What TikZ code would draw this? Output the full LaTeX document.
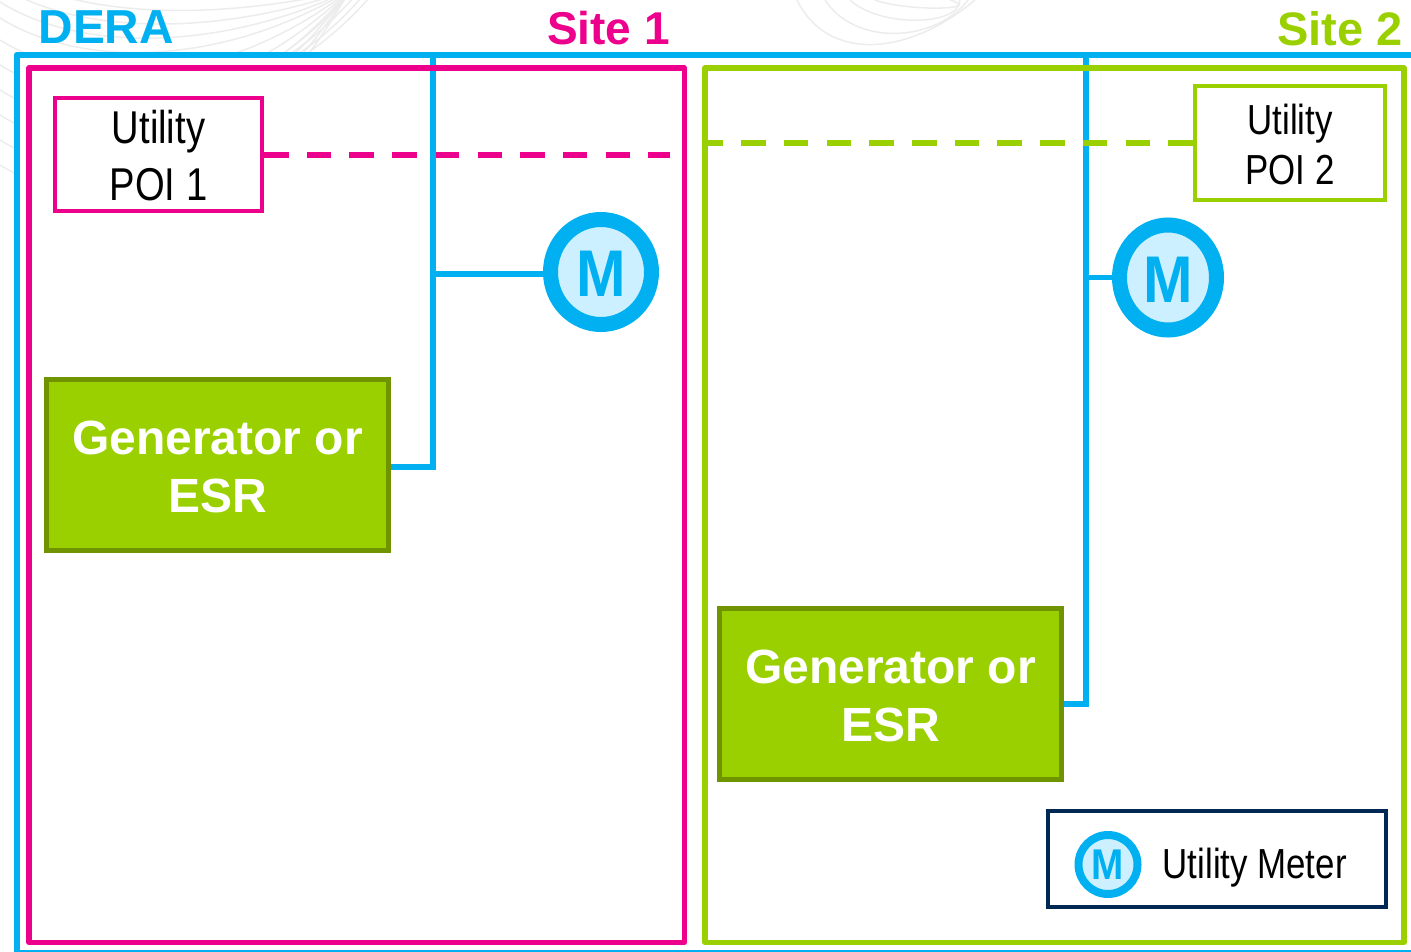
\documentclass[tikz,border=0pt]{standalone}
\usepackage{fontspec}
\setmainfont{Liberation Sans}
\newfontfamily\narrowfont[FakeStretch=0.83]{Liberation Sans}
\usepackage{xcolor}
\definecolor{dera}{RGB}{0,176,240}
\definecolor{meterfill}{RGB}{204,240,255}
\definecolor{siteone}{RGB}{236,0,140}
\definecolor{sitetwo}{RGB}{155,208,0}
\definecolor{genedge}{RGB}{111,148,0}
\definecolor{legendedge}{RGB}{0,40,85}
\definecolor{swirl}{RGB}{236,236,236}
\usetikzlibrary{positioning, calc, shapes.geometric}
\newcommand{\genlabel}{\rule{0pt}{37pt}Generator or\\ESR}
\newcommand{\meterM}{\scalebox{0.9}[1]{\bfseries M}}
\tikzstyle{Site} = [line width=5.3pt, line join=round]
\tikzstyle{Bus} = [draw=dera, line width=5.5pt]
\tikzstyle{Dash} = [line width=6pt, dash pattern=on 24.5pt off 18.2pt]
\tikzstyle{Poi} = [draw, fill=white, line width=4pt, inner sep=0pt, align=center]
\tikzstyle{Gen} = [draw=genedge, fill=sitetwo, line width=5pt, inner sep=0pt, align=center, text=white,
  minimum width=342pt, minimum height=171pt, font=\fontsize{48}{57.5}\selectfont\bfseries]
\tikzstyle{Meter} = [ellipse, draw=dera, fill=meterfill, line width=15pt, inner sep=0pt, text=dera,
  font=\fontsize{66}{66}\selectfont]
\tikzstyle{Title} = [inner sep=0pt, font=\fontsize{47}{47}\selectfont\bfseries]
\tikzstyle{Swirl} = [draw=swirl, line width=1.5pt]

\begin{document}
\begin{tikzpicture}[x=1pt, y=-1pt]
    \useasboundingbox (0,0) rectangle (1411,951);
    % faint curves behind the frame
    \foreach \a in {-30,-14,2,18,40,65,90,115,140,165}
        \draw[Swirl] (0,\a) .. controls (80,\a+50) and (220,\a+50) .. (350,-10);
    \foreach \a in {0,8,16,24}
        \draw[Swirl] (282+\a,54) .. controls (310+\a,35) and (330+\a,15) .. (345+\a,-2);
    \foreach \a/\b/\c in {797/44/975,825/33/968,850/20/960,875/8/950}
        \draw[Swirl] (\a,0) .. controls (\a+30,\b*1.4) and (\a+110,\b*1.3) .. (\c,0);

    % frame and titles
    \draw[dera, fill=white, line width=6pt, line join=round] (1420,54.5) -- (17,54.5) -- (17,953) -- (1420,953);
    \node[Title, text=dera, font=\fontsize{47.7}{47.7}\selectfont\bfseries, anchor=base west] (dera) at (38.5,43) {DERA};
    \node[Title, text=siteone, font=\fontsize{46}{46}\selectfont\bfseries, anchor=base west] (title1) at (547,44) {Site 1};
    \node[Title, text=sitetwo, anchor=base east] (title2) at (1403,45) {Site 2};

    \node[Gen] (gen1) at (217.5,465) {\genlabel};
    \node[Gen] (gen2) at (890.5,694) {\genlabel};
    \node[Meter, minimum width=101pt, minimum height=105pt] (m1) at (601,272) {\rule{0pt}{49pt}\meterM};
    \node[Meter, minimum width=97pt, minimum height=105pt] (m2) at (1168,277.5) {\rule{0pt}{49pt}\meterM};

    \node[Poi, draw=siteone, minimum width=207pt, minimum height=113pt, font=\fontsize{46}{57}\narrowfont] (poi1) at (158.5,154.5)
      {\rule{0pt}{36pt}Utility\\POI 1};
    \coordinate (end1) at (670,154.5);
    \draw[Dash, siteone] (poi1.east) -- (end1);

    \coordinate (bus1) at (433,58);
    \coordinate (bus2) at (1086,58);
    \coordinate (j1) at (433,274);
    \coordinate (j2) at (1086,277.5);
    \coordinate (low1) at (433,467);
    \coordinate (low2) at (1086,704);

    % buses
    \draw[Bus] (bus1) -- ($(low1)+(0,2.75)$);
    \draw[Bus] (bus2) -- ($(low2)+(0,2.75)$);
    \draw[Bus] (j1) -- (m1.west |- j1);
    \draw[Bus] (j2) -- (m2.west |- j2);
    \draw[Bus] (gen1.east |- low1) -- ($(low1)+(2.75,0)$);
    \draw[Bus] (gen2.east |- low2) -- ($(low2)+(2.75,0)$);

    % sites
    \draw[Site, siteone] (29,68) rectangle (684.3,942.5);
    \draw[Site, sitetwo] (705,68) rectangle (1404,942.5);

    \node[Poi, draw=sitetwo, minimum width=190.5pt, minimum height=114pt, font=\fontsize{42}{50}\narrowfont] (poi2) at (1290,143)
      {\rule{0pt}{33pt}Utility\\POI 2};
    \coordinate (end2) at (705,143);
    \draw[Dash, sitetwo] (poi2.west) -- (end2);

    % legend
    \node[draw=legendedge, line width=4pt, minimum width=337.5pt, minimum height=96pt, inner sep=0pt] (legend) at (1216.75,859) {};
    \node[Meter, line width=8pt, minimum size=59pt, font=\fontsize{43}{43}\selectfont] (m3) at (1108,864.5) {\meterM};
    \node[inner sep=0pt, right=21pt of m3.east, yshift=-3.5pt, font=\fontsize{42}{42}\narrowfont] (legendtext) {Utility Meter};
\end{tikzpicture}
\end{document}
